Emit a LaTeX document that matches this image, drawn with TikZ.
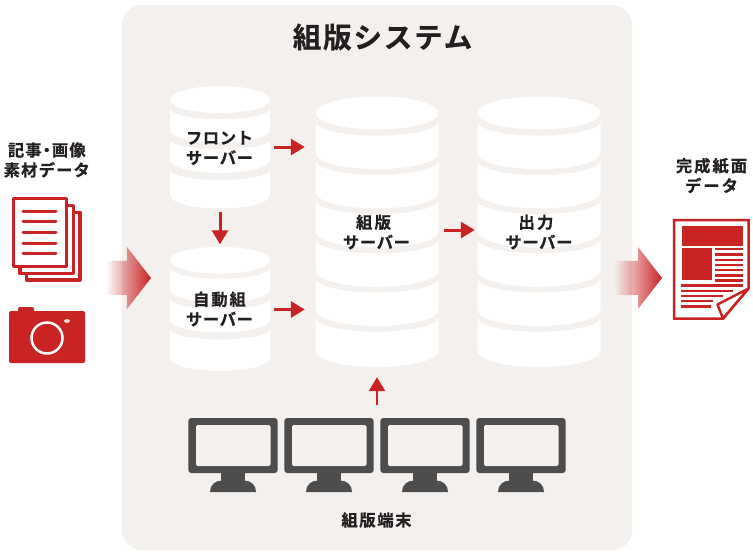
\documentclass[tikz,border=0pt]{standalone}
\usepackage{fontspec}
\setmainfont{Noto Sans CJK JP}[BoldFont={Noto Sans CJK JP Bold}]
\usetikzlibrary{arrows.meta,fadings}
\definecolor{panelbg}{HTML}{F3F0ED}
\definecolor{accent}{HTML}{C92323}
\definecolor{monitorgray}{HTML}{4D4D4D}
\definecolor{labelink}{HTML}{231F20}
\tikzfading[name=fadeshaft,left color=transparent!100,right color=transparent!0]
\newcommand{\heavy}[1]{\bfseries\fontsize{16.3}{20}\selectfont\addfontfeature{FakeBold=0.6,LetterSpace=#1}}
\tikzset{
  x=1pt,y=-1pt,
  label text/.style={font=\heavy{4},text=labelink,align=center,inner sep=0pt},
  connector/.style={draw=accent,line width=3pt,-{Triangle[length=14pt,width=16pt]}},
  redline/.style={draw=accent,line width=3pt,line cap=round},
  paperline/.style={draw=accent,line width=2.2pt},
}
\newcommand{\segment}[6]{% cx hw top bottom toprise botrise
  \fill[white] (#1-#2,#3-#5) .. controls (#1-#2,#3-#5+0.55*#5) and (#1-0.55*#2,#3) .. (#1,#3)
     .. controls (#1+0.55*#2,#3) and (#1+#2,#3-#5+0.55*#5) .. (#1+#2,#3-#5)
     -- (#1+#2,#4-#6) .. controls (#1+#2,#4-#6+0.55*#6) and (#1+0.55*#2,#4) .. (#1,#4)
     .. controls (#1-0.55*#2,#4) and (#1-#2,#4-#6+0.55*#6) .. (#1-#2,#4-#6) -- cycle;}
\newcommand{\smallstack}[5]{% cap centre, top1, top2, top3, last bottom
  \fill[white] (220,#1) ellipse [x radius=50,y radius=13.5];
  \pgfmathsetmacro{\ba}{#2+24}\pgfmathsetmacro{\bb}{#3+23.5}
  \segment{220}{50}{#2}{\ba}{10}{13}
  \segment{220}{50}{#3}{\bb}{10}{13}
  \segment{220}{50}{#4}{#5}{10}{13}}
\newcommand{\monitorunit}[1]{%
  \begin{scope}[shift={(#1,0)}]
    \fill[monitorgray,rounded corners=3pt] (188.3,418) rectangle (277.7,473);
    \fill[panelbg,rounded corners=2pt] (196,425) rectangle (270.5,466);
    \fill[monitorgray] (221,472) rectangle (245,482);
    \fill[monitorgray] (210,492) .. controls (210,485) and (215,480.5) .. (222,480.5) -- (244,480.5) .. controls (251,480.5) and (256,485) .. (256,492) -- cycle;
  \end{scope}}
\newcommand{\gradarrow}[4]{% left x, head base x, tip x, y centre
  \fill[accent,path fading=fadeshaft] (#1,#4-17) -- (#2,#4-17) -- (#2,#4-31) -- (#3,#4) -- (#2,#4+31) -- (#2,#4+17) -- (#1,#4+17) -- cycle;}
\begin{document}
\begin{tikzpicture}
\useasboundingbox (0,0) rectangle (753,555);
\fill[white] (0,0) rectangle (753,555);
\fill[panelbg,rounded corners=20pt] (122,5) rectangle (632,550);
\node[font=\bfseries\fontsize{28.5}{32}\selectfont\addfontfeature{FakeBold=0.6,LetterSpace=6.5},text=labelink,inner sep=0pt] (title) at (382.5,37) {組版システム};

% bounds of the stacks
\node[minimum width=100pt,minimum height=122pt,inner sep=0pt] (front) at (220,147) {};
\node[minimum width=100pt,minimum height=124pt,inner sep=0pt] (auto) at (220,309.5) {};
\node[minimum width=122pt,minimum height=270pt,inner sep=0pt] (big) at (377,232) {};
\node[minimum width=122pt,minimum height=270pt,inner sep=0pt] (output) at (539,232) {};

% small stacks
\smallstack{99.5}{119}{149.5}{180}{208.5}
\smallstack{260.3}{278.5}{309}{339.5}{371}
% large stacks
\foreach \cx in {377,539} {
  \fill[white] (\cx,113) ellipse [x radius=61.5,y radius=16.5];
  \foreach \k in {0,...,4} {
    \pgfmathsetmacro{\t}{135.7+\k*39.2}
    \pgfmathsetmacro{\b}{\t+33.5}
    \segment{\cx}{61.5}{\t}{\b}{14}{16}
  }
  \segment{\cx}{61.5}{331.7}{367}{14}{16}
}

% labels
\node[label text] (frontlabel) at (219.5,148) {フロント\\サーバー};
\node[label text] (autolabel) at (219.5,309) {{\addfontfeature{LetterSpace=12}自動組}\\サーバー};
\node[label text] (biglabel) at (376.5,232) {{\addfontfeature{LetterSpace=14}組版}\kern6pt\\サーバー};
\node[label text] (outputlabel) at (539,232) {{\addfontfeature{LetterSpace=14}出力}\kern6pt\\サーバー};

% terminals
\monitorunit{0}\monitorunit{96}\monitorunit{192}\monitorunit{288}
\node[minimum width=377pt,minimum height=74pt,inner sep=0pt] (terminals) at (376.5,455) {};
\node[label text,font=\heavy{10}] (termlabel) at (376.5,520) {組版端末};

% connectors
\draw[connector,shorten <=4pt,shorten >=11pt] (front.east) -- (front.east -| big.west);
\draw[connector,shorten <=4pt,shorten >=11pt] (auto.east) -- (auto.east -| big.west);
\draw[connector,shorten <=6pt,shorten >=3pt] ([yshift=2pt]big.east) -- ([yshift=2pt]output.west);
\draw[connector,shorten <=4pt,shorten >=3pt] (front.south) -- (auto.north);
\draw[connector,line width=2.6pt,shorten <=13pt,shorten >=10pt] (terminals.north -| big.south) -- (big.south);

% left block
\node[label text,font=\heavy{7}] (inlabel) at (46.8,160) {記事\kern-3pt・\kern-3pt画像\\素材データ};
\draw[accent,line width=3.2pt,fill=white,line join=round] (26.5,212.5) rectangle (80,280);
\draw[accent,line width=3.2pt,fill=white,line join=round] (20,205.5) rectangle (73.5,273.5);
\draw[accent,line width=3.2pt,fill=white,line join=round] (13.6,198.5) rectangle (66.5,266.5);
\foreach \y in {211,221.7,232,243,253} \draw[redline] (23,\y) -- (56,\y);
\fill[accent,rounded corners=1.5pt] (9,311) rectangle (85,363);
\fill[accent,rounded corners=2pt] (18,307) rectangle (34,315);
\draw[white,line width=2.5pt] (47,338) circle [radius=15.5];
\fill[white,opacity=.85] (67,321) ellipse [x radius=3,y radius=1.9];

\gradarrow{106}{127}{151}{278}
\gradarrow{614}{638}{662}{278}

% right block
\node[label text,font=\heavy{12}] (outlabel) at (711.5,175.5) {完成紙面\\データ};
\draw[accent,line width=2.5pt,fill=white,line join=miter] (674,220) -- (748.5,220) -- (748.5,288.5) -- (723,318.5) -- (674,318.5) -- cycle;
\fill[accent] (682,226) rectangle (742.5,246);
\fill[accent] (682,248) rectangle (712,279.5);
\foreach \y in {249,254.5,260,265,270,275.5,280.5} \draw[paperline] (715,\y) -- (743,\y);
\draw[paperline] (681,285.5) -- (743,285.5);
\draw[paperline] (681,291) -- (733,291);
\draw[paperline] (681,296) -- (723,296);
\draw[paperline] (681,301) -- (713,301);
\draw[paperline] (681,306.5) -- (711,306.5);
\draw[accent,line width=2.5pt,fill=white,line join=round] (748.5,288.5) -- (717.5,304.5) -- (723,318.5) -- cycle;
\end{tikzpicture}
\end{document}
